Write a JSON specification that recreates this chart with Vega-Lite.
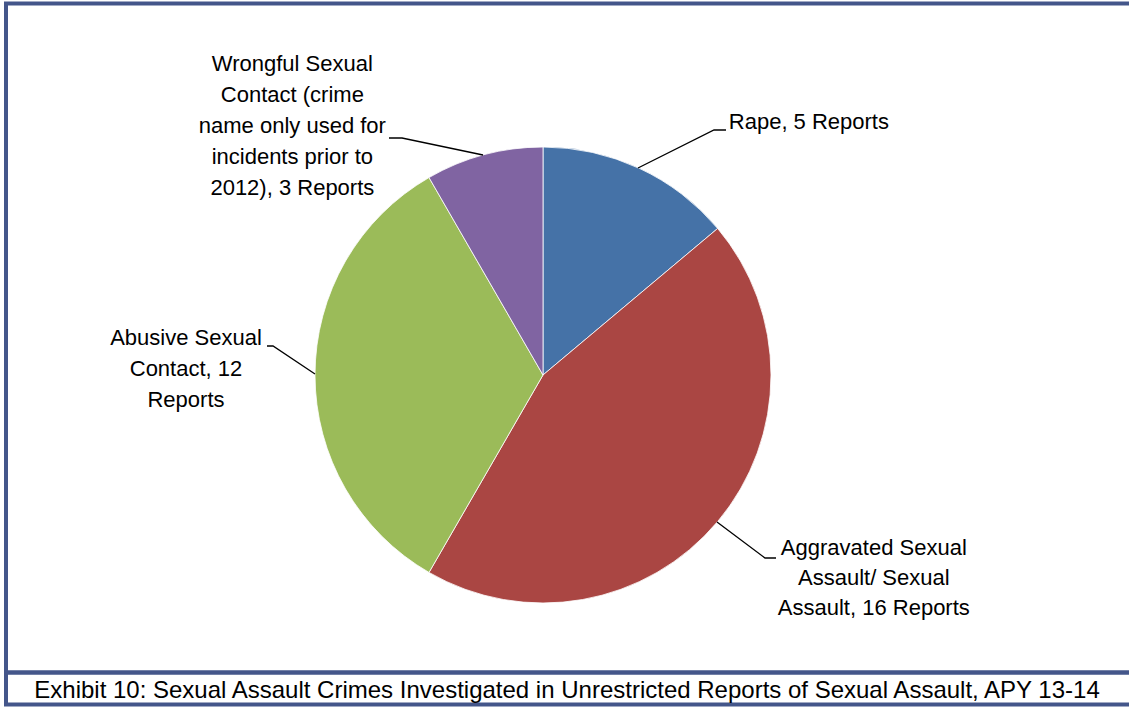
{
  "$schema": "https://vega.github.io/schema/vega-lite/v6.json",
  "padding": {"left": 4, "top": 1.5, "right": -9, "bottom": 1.5},
  "spacing": 0,
  "bounds": "flush",
  "background": "white",
  "config": {
    "view": {"stroke": "#44568A", "strokeWidth": 4},
    "style": {"view": {"stroke": "#44568A", "strokeWidth": 4}},
    "font": "Liberation Sans"
  },
  "datasets": {
    "crimes": [
      {"crime": "Rape", "reports": 5, "idx": 1, "label": "Rape, 5 Reports"},
      {"crime": "Aggravated Sexual Assault/ Sexual Assault", "reports": 16, "idx": 2, "label": "Aggravated Sexual\nAssault/ Sexual\nAssault, 16 Reports"},
      {"crime": "Abusive Sexual Contact", "reports": 12, "idx": 3, "label": "Abusive Sexual\nContact, 12\nReports"},
      {"crime": "Wrongful Sexual Contact", "reports": 3, "idx": 4, "label": "Wrongful Sexual\nContact (crime\nname only used for\nincidents prior to\n2012), 3 Reports"}
    ],
    "caption": [
      {"text": "Exhibit 10: Sexual Assault Crimes Investigated in Unrestricted Reports of Sexual Assault, APY 13-14"}
    ]
  },
  "vconcat": [
    {
      "width": 1130,
      "height": 669,
      "view": {"stroke": "#44568A", "strokeWidth": 4},
      "data": {"name": "crimes"},
      "layer": [
        {
          "mark": {"type": "arc", "radius": 228, "x": 537, "y": 371.5, "stroke": "white", "strokeWidth": 0.8},
          "encoding": {
            "theta": {"field": "reports", "type": "quantitative", "stack": true},
            "order": {"field": "idx", "type": "quantitative"},
            "color": {
              "field": "crime", "type": "nominal", "legend": null,
              "scale": {
                "domain": ["Rape", "Aggravated Sexual Assault/ Sexual Assault", "Abusive Sexual Contact", "Wrongful Sexual Contact"],
                "range": ["#4572A7", "#AA4643", "#9BBB59", "#8064A2"]
              }
            }
          }
        },
        {
          "mark": {"type": "point", "x": 537, "y": 371.5, "filled": false, "size": 4, "stroke": "black", "strokeWidth": 1.3, "opacity": 1},
          "encoding": {
            "shape": {
              "field": "crime", "type": "nominal", "legend": null,
              "scale": {
                "domain": ["Rape", "Aggravated Sexual Assault/ Sexual Assault", "Abusive Sexual Contact", "Wrongful Sexual Contact"],
                "range": ["M95,-207L171,-245L183,-245", "M174,147L222,183L233,183", "M-228,-1L-270,-29L-276,-29", "M-60,-220L-141,-237L-154,-237"]
              }
            }
          }
        },
        {
          "mark": {"type": "text", "x": 537, "y": 371.5, "radius": 300, "dx": 59, "dy": 19, "align": "left", "baseline": "middle", "fontSize": 22, "lineHeight": 31, "lineBreak": "\n", "color": "black"},
          "encoding": {
            "theta": {"field": "reports", "type": "quantitative", "stack": true},
            "order": {"field": "idx", "type": "quantitative"},
            "text": {"condition": {"test": "datum.crime === 'Rape'", "field": "label"}, "value": ""}
          }
        },
        {
          "mark": {"type": "text", "x": 537, "y": 371.5, "radius": 300, "dx": 101, "dy": -20, "align": "center", "baseline": "middle", "fontSize": 22, "lineHeight": 30, "lineBreak": "\n", "color": "black"},
          "encoding": {
            "theta": {"field": "reports", "type": "quantitative", "stack": true},
            "order": {"field": "idx", "type": "quantitative"},
            "text": {"condition": {"test": "datum.idx === 2", "field": "label"}, "value": ""}
          }
        },
        {
          "mark": {"type": "text", "x": 537, "y": 371.5, "radius": 300, "dx": -57, "dy": -37, "align": "center", "baseline": "middle", "fontSize": 22, "lineHeight": 31, "lineBreak": "\n", "color": "black"},
          "encoding": {
            "theta": {"field": "reports", "type": "quantitative", "stack": true},
            "order": {"field": "idx", "type": "quantitative"},
            "text": {"condition": {"test": "datum.idx === 3", "field": "label"}, "value": ""}
          }
        },
        {
          "mark": {"type": "text", "x": 537, "y": 371.5, "radius": 300, "dx": -173, "dy": -21.5, "align": "center", "baseline": "middle", "fontSize": 22, "lineHeight": 31, "lineBreak": "\n", "color": "black"},
          "encoding": {
            "theta": {"field": "reports", "type": "quantitative", "stack": true},
            "order": {"field": "idx", "type": "quantitative"},
            "text": {"condition": {"test": "datum.idx === 4", "field": "label"}, "value": ""}
          }
        }
      ]
    },
    {
      "width": 1130,
      "height": 32,
      "view": {"stroke": "#44568A", "strokeWidth": 4},
      "data": {"name": "caption"},
      "mark": {"type": "text", "fontSize": 24, "color": "black", "dx": -4, "dy": 2, "baseline": "middle", "align": "center"},
      "encoding": {"text": {"field": "text", "type": "nominal"}}
    }
  ]
}
